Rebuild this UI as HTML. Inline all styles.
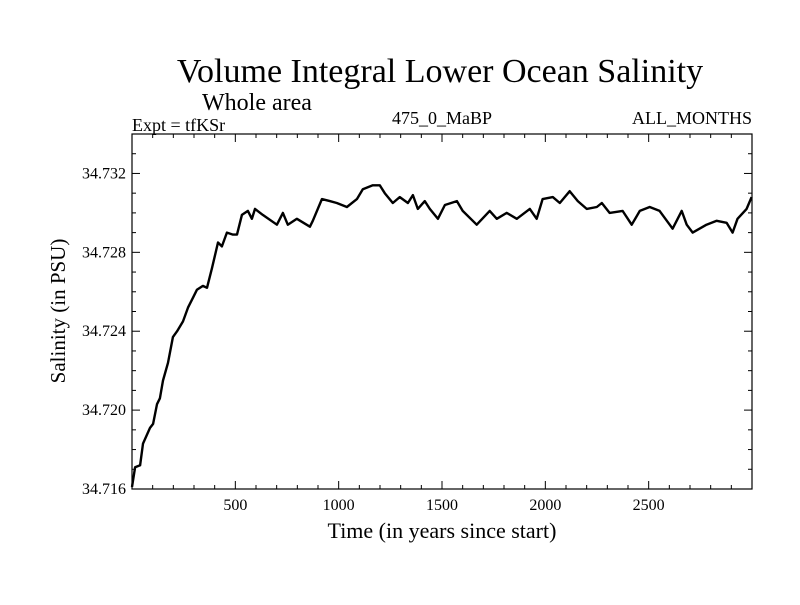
<!DOCTYPE html>
<html><head><meta charset="utf-8"><style>
body{margin:0;background:#fff}
svg text{font-family:"Liberation Serif",serif;fill:#000}
</style></head><body>
<svg id="chart" width="800" height="600" viewBox="0 0 800 600" xmlns="http://www.w3.org/2000/svg">
<text x="440" y="82" font-size="34" text-anchor="middle">Volume Integral Lower Ocean Salinity</text>
<text x="202" y="110" font-size="24">Whole area</text>
<text x="132" y="131" font-size="18">Expt = tfKSr</text>
<text x="442" y="124" font-size="18" text-anchor="middle">475_0_MaBP</text>
<text x="752" y="124" font-size="18" text-anchor="end">ALL_MONTHS</text>
<text x="442" y="538" font-size="22" text-anchor="middle">Time (in years since start)</text>
<text transform="translate(65,311) rotate(-90)" font-size="21" text-anchor="middle">Salinity (in PSU)</text>
<g id="axes"></g>
<path id="series" fill="none" stroke="#000" stroke-width="2.4" stroke-linejoin="round"/>
<rect x="132" y="134" width="620" height="355" fill="none" stroke="#000" stroke-width="1.2"/>
</svg>
<script>
const years=[0,15,39,53,87,102,121,135,150,174,198,218,247,271,295,314,343,363,387,416,435,459,488,508,532,561,580,595,633,701,730,754,798,861,875,919,957,991,1040,1088,1117,1165,1199,1223,1262,1296,1335,1359,1383,1417,1441,1480,1514,1572,1600,1668,1731,1765,1813,1862,1925,1958,1987,2036,2070,2118,2157,2200,2249,2273,2311,2374,2418,2457,2505,2553,2602,2616,2660,2684,2713,2780,2829,2877,2906,2930,2974,2998];
const salinity=[34.7161,34.7171,34.7172,34.7183,34.7191,34.7193,34.7203,34.7206,34.7215,34.7224,34.7237,34.7240,34.7245,34.7252,34.7257,34.7261,34.7263,34.7262,34.7272,34.7285,34.7283,34.7290,34.7289,34.7289,34.7299,34.7301,34.7297,34.7302,34.7299,34.7294,34.7300,34.7294,34.7297,34.7293,34.7296,34.7307,34.7306,34.7305,34.7303,34.7307,34.7312,34.7314,34.7314,34.7310,34.7305,34.7308,34.7305,34.7309,34.7302,34.7306,34.7302,34.7297,34.7304,34.7306,34.7301,34.7294,34.7301,34.7297,34.7300,34.7297,34.7302,34.7297,34.7307,34.7308,34.7305,34.7311,34.7306,34.7302,34.7303,34.7305,34.7300,34.7301,34.7294,34.7301,34.7303,34.7301,34.7294,34.7292,34.7301,34.7294,34.7290,34.7294,34.7296,34.7295,34.7290,34.7297,34.7302,34.7308];
const xTicks=[500,1000,1500,2000,2500];
const yTicks=[34.716,34.720,34.724,34.728,34.732];
const X0=132,X1=752,Y0=489,Y1=134,XMIN=0,XMAX=3000,YMIN=34.716,YMAX=34.734;
const sx=v=>X0+(v-XMIN)/(XMAX-XMIN)*(X1-X0);
const sy=v=>Y0-(v-YMIN)/(YMAX-YMIN)*(Y0-Y1);
const NS='http://www.w3.org/2000/svg';
const g=document.getElementById('axes');
function line(x1,y1,x2,y2,name){const l=document.createElementNS(NS,'line');l.setAttribute('x1',x1);l.setAttribute('y1',y1);l.setAttribute('x2',x2);l.setAttribute('y2',y2);l.setAttribute('stroke','#000');l.setAttribute('stroke-width','1');


g.appendChild(l);}
for(let v=100;v<XMAX;v+=100){const major=v%500===0;const x=sx(v),len=major?8:4;line(x,Y0,x,Y0-len,'x-tick');line(x,Y1,x,Y1+len,'x-tick-top');}
for(let i=1;i<18;i++){const v=YMIN+i*0.001;const major=i%4===0;const y=sy(v),len=major?8:4;line(X0,y,X0+len,y,'y-tick');line(X1,y,X1-len,y,'y-tick-right');}
xTicks.forEach(v=>{const t=document.createElementNS(NS,'text');t.setAttribute('x',sx(v));t.setAttribute('y',Y0+21);t.setAttribute('font-size','16');t.setAttribute('text-anchor','middle');t.textContent=v;


g.appendChild(t);});
yTicks.forEach(v=>{const t=document.createElementNS(NS,'text');t.setAttribute('x',X0-6);t.setAttribute('y',sy(v)+5);t.setAttribute('font-size','16');t.setAttribute('text-anchor','end');t.textContent=v.toFixed(3);


g.appendChild(t);});
let d='';years.forEach((yr,i)=>{d+=(i?'L':'M')+sx(yr).toFixed(1)+' '+sy(salinity[i]).toFixed(1);});
document.getElementById('series').setAttribute('d',d);
</script>
</body></html>
